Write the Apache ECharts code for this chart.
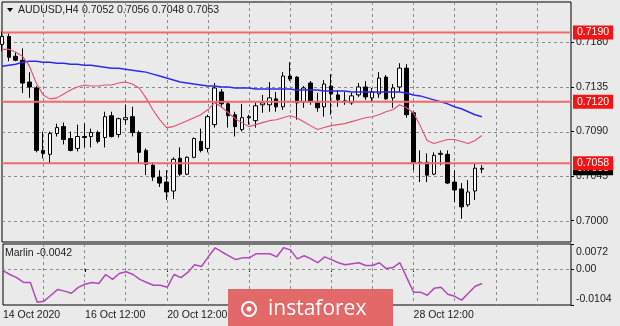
<!DOCTYPE html>
<html><head><meta charset="utf-8">
<script src="https://cdn.jsdelivr.net/npm/echarts@6/dist/echarts.min.js"></script>
<style>html,body{margin:0;padding:0;background:#eaeaea}#c{width:620px;height:326px}</style>
</head><body><div id="c"></div>
<script>
const symbolName = 'AUDUSD,H4';
const indicatorName = 'Marlin';
const categories = [
 '14 Oct 2020','14 Oct 16:00','14 Oct 20:00',
 '15 Oct 00:00','15 Oct 04:00','15 Oct 08:00','15 Oct 12:00','15 Oct 16:00','15 Oct 20:00',
 '16 Oct 00:00','16 Oct 04:00','16 Oct 08:00','16 Oct 12:00','16 Oct 16:00','16 Oct 20:00',
 '19 Oct 00:00','19 Oct 04:00','19 Oct 08:00','19 Oct 12:00','19 Oct 16:00','19 Oct 20:00',
 '20 Oct 00:00','20 Oct 04:00','20 Oct 08:00','20 Oct 12:00','20 Oct 16:00','20 Oct 20:00',
 '21 Oct 00:00','21 Oct 04:00','21 Oct 08:00','21 Oct 12:00','21 Oct 16:00','21 Oct 20:00',
 '22 Oct 00:00','22 Oct 04:00','22 Oct 08:00','22 Oct 12:00','22 Oct 16:00','22 Oct 20:00',
 '23 Oct 00:00','23 Oct 04:00','23 Oct 08:00','23 Oct 12:00','23 Oct 16:00','23 Oct 20:00',
 '26 Oct 00:00','26 Oct 04:00','26 Oct 08:00','26 Oct 12:00','26 Oct 16:00','26 Oct 20:00',
 '27 Oct 00:00','27 Oct 04:00','27 Oct 08:00','27 Oct 12:00','27 Oct 16:00','27 Oct 20:00',
 '28 Oct 00:00','28 Oct 04:00','28 Oct 08:00','28 Oct 12:00','28 Oct 16:00','28 Oct 20:00',
 '29 Oct 00:00','29 Oct 04:00','29 Oct 08:00','29 Oct 12:00','29 Oct 16:00','29 Oct 20:00',
 '30 Oct 00:00','30 Oct 04:00'
];
const open  = [0.7178,0.7186,0.7166,0.7162,0.7140,0.7134,0.7071,0.7067,0.7088,0.7095,0.7083,0.7073,0.7085,0.7085,0.7089,0.7084,0.7106,0.7087,0.7102,0.7105,0.7089,0.7071,0.7056,0.7044,0.7039,0.7030,0.7063,0.7047,0.7064,0.7080,0.7073,0.7097,0.7130,0.7118,0.7107,0.7092,0.7104,0.7101,0.7117,0.7117,0.7123,0.7115,0.7146,0.7145,0.7120,0.7139,0.7119,0.7115,0.7136,0.7127,0.7121,0.7119,0.7127,0.7135,0.7124,0.7128,0.7145,0.7124,0.7135,0.7154,0.7109,0.7059,0.7059,0.7047,0.7067,0.7067,0.7039,0.7032,0.7016,0.7030,0.7052];
const close = [0.7186,0.7165,0.7162,0.7139,0.7135,0.7071,0.7068,0.7088,0.7094,0.7082,0.7071,0.7085,0.7084,0.7089,0.7080,0.7105,0.7085,0.7103,0.7104,0.7089,0.7069,0.7057,0.7044,0.7038,0.7029,0.7062,0.7047,0.7064,0.7083,0.7071,0.7105,0.7134,0.7118,0.7106,0.7095,0.7104,0.7105,0.7116,0.7119,0.7124,0.7115,0.7146,0.7143,0.7119,0.7134,0.7120,0.7114,0.7138,0.7128,0.7122,0.7120,0.7126,0.7135,0.7125,0.7130,0.7144,0.7123,0.7134,0.7154,0.7107,0.7059,0.7058,0.7046,0.7066,0.7068,0.7038,0.7031,0.7014,0.7029,0.7053,0.7053];
const low   = [0.7171,0.7161,0.7161,0.7129,0.7124,0.7069,0.7063,0.7058,0.7085,0.7077,0.7070,0.7070,0.7074,0.7074,0.7078,0.7074,0.7084,0.7084,0.7097,0.7085,0.7058,0.7046,0.7040,0.7034,0.7021,0.7022,0.7045,0.7046,0.7063,0.7069,0.7069,0.7094,0.7114,0.7094,0.7085,0.7090,0.7097,0.7094,0.7109,0.7110,0.7110,0.7112,0.7141,0.7102,0.7114,0.7117,0.7110,0.7105,0.7107,0.7115,0.7117,0.7117,0.7125,0.7122,0.7120,0.7124,0.7122,0.7114,0.7130,0.7104,0.7051,0.7039,0.7039,0.7046,0.7056,0.7037,0.7019,0.7002,0.7014,0.7021,0.7048];
const high  = [0.7191,0.7189,0.7170,0.7174,0.7150,0.7136,0.7090,0.7090,0.7098,0.7099,0.7090,0.7097,0.7098,0.7093,0.7091,0.7110,0.7110,0.7104,0.7117,0.7115,0.7091,0.7073,0.7059,0.7051,0.7051,0.7064,0.7074,0.7065,0.7084,0.7093,0.7107,0.7139,0.7133,0.7120,0.7110,0.7118,0.7107,0.7119,0.7127,0.7140,0.7130,0.7150,0.7160,0.7146,0.7136,0.7141,0.7129,0.7142,0.7148,0.7132,0.7130,0.7129,0.7139,0.7141,0.7134,0.7150,0.7147,0.7138,0.7159,0.7158,0.7110,0.7071,0.7068,0.7069,0.7071,0.7071,0.7051,0.7038,0.7041,0.7058,0.7056];
const maBlue = [0.7156,0.7157,0.7158,0.7160,0.7161,0.7161,0.7160,0.7160,0.7159,0.7159,0.7158,0.7158,0.7157,0.7157,0.7156,0.7155,0.7154,0.7154,0.7153,0.7152,0.7151,0.7150,0.7148,0.7146,0.7144,0.7142,0.7140,0.7139,0.7138,0.7137,0.7136,0.7136,0.7135,0.7135,0.7134,0.7134,0.7134,0.7133,0.7133,0.7133,0.7133,0.7133,0.7133,0.7132,0.7132,0.7132,0.7132,0.7131,0.7131,0.7131,0.7131,0.7130,0.7130,0.7130,0.7130,0.7130,0.7130,0.7130,0.7130,0.7129,0.7127,0.7126,0.7124,0.7122,0.7120,0.7118,0.7115,0.7113,0.7110,0.7107,0.7105];
const maRed = [0.7173,0.7173,0.7170,0.7166,0.7156,0.7139,0.7127,0.7123,0.7124,0.7128,0.7132,0.7135,0.7137,0.7136,0.7136,0.7137,0.7137,0.7139,0.7140,0.7138,0.7134,0.7124,0.7112,0.7102,0.7094,0.7095,0.7098,0.7101,0.7104,0.7107,0.7112,0.7119,0.7115,0.7109,0.7103,0.7099,0.7095,0.7097,0.7099,0.7101,0.7102,0.7104,0.7106,0.7104,0.7100,0.7096,0.7092,0.7094,0.7096,0.7097,0.7098,0.7100,0.7102,0.7104,0.7105,0.7107,0.7110,0.7112,0.7117,0.7114,0.7109,0.7096,0.7081,0.7078,0.7080,0.7082,0.7082,0.7080,0.7078,0.7081,0.7086];
const marlin = [-0.0005,-0.0016,-0.0025,-0.0039,-0.0039,-0.0096,-0.0093,-0.0076,-0.0059,-0.0064,-0.0070,-0.0053,-0.0044,-0.0039,-0.0042,-0.0016,-0.0030,-0.0013,-0.0008,-0.0016,-0.0030,-0.0039,-0.0047,-0.0047,-0.0053,-0.0016,-0.0025,-0.0010,0.0012,0.0007,0.0035,0.0061,0.0049,0.0038,0.0027,0.0032,0.0032,0.0044,0.0044,0.0044,0.0035,0.0061,0.0055,0.0029,0.0038,0.0029,0.0018,0.0035,0.0027,0.0018,0.0012,0.0015,0.0018,0.0010,0.0010,0.0018,0.0001,0.0004,0.0018,-0.0025,-0.0067,-0.0067,-0.0076,-0.0056,-0.0053,-0.0073,-0.0079,-0.0090,-0.0070,-0.0050,-0.0042];
const priceTicks = [0.7000,0.7045,0.7090,0.7135,0.7180];
const priceMin = 0.69785, priceMax = 0.72208;
const levels = [0.7190,0.7120,0.7058];
const marlinTicks = [-0.0104,0,0.0072];
const marlinGrid = [0];
const marlinMin = -0.0104, marlinMax = 0.0072;
const totalSlots = 84;
const gridEvery = 6, labelEvery = 12;

const slots = categories.concat(new Array(totalSlots - categories.length).fill(''));
const candles = open.map((o,i)=>[o, close[i], low[i], high[i]]);
const last = open.length - 1;
const FONT = 'Liberation Sans';
const DASH = {stroke:'#8c8c8c', lineWidth:1, lineDash:[3,3]};

const chart = echarts.init(document.getElementById('c'), null, {renderer:'canvas'});
chart.setOption({
  animation:false,
  backgroundColor:'#eaeaea',
  textStyle:{fontFamily:FONT},
  grid:[
    {left:2, right:49, top:2, height:240, show:true, borderColor:'#000', borderWidth:1, backgroundColor:'transparent'},
    {left:2, right:49, top:244, height:61, show:true, borderColor:'#000', borderWidth:1, backgroundColor:'transparent'}
  ],
  xAxis:[
    {type:'category', gridIndex:0, data:slots, boundaryGap:false,
     axisLine:{show:false}, axisTick:{show:false}, axisLabel:{show:false}, splitLine:{show:false}},
    {type:'category', gridIndex:1, data:slots, boundaryGap:false,
     axisLine:{show:false},
     axisTick:{show:true, interval:(i)=>i%labelEvery===0 && i<=last, length:3, lineStyle:{color:'#000'}},
     axisLabel:{show:true, interval:(i)=>i%labelEvery===0 && i<=last, align:'left', margin:5, fontSize:10.5, color:'#1a1a1a', fontFamily:FONT},
     splitLine:{show:false}}
  ],
  yAxis:[
    {type:'value', gridIndex:0, position:'right', min:priceMin, max:priceMax,
     splitLine:{show:false}, axisLine:{show:false},
     axisTick:{show:true, customValues:priceTicks, length:3, lineStyle:{color:'#000'}},
     axisLabel:{show:true, customValues:priceTicks, formatter:(v)=>v.toFixed(4), margin:5, fontSize:10.5, color:'#1a1a1a', fontFamily:FONT}},
    {type:'value', gridIndex:1, position:'right', min:marlinMin, max:marlinMax,
     splitLine:{show:false}, axisLine:{show:false},
     axisTick:{show:true, customValues:marlinTicks, length:3, lineStyle:{color:'#000'}},
     axisLabel:{show:true, customValues:marlinTicks, formatter:(v)=>v===0?'0.00':v.toFixed(4), margin:5, fontSize:10.5, color:'#1a1a1a', fontFamily:FONT,
       verticalAlignMinLabel:'bottom', verticalAlignMaxLabel:'top', padding:[3,0,0,0]}}
  ],
  series:[
    {type:'candlestick', xAxisIndex:0, yAxisIndex:0, data:candles, barWidth:4, z:3,
     itemStyle:{color:'#ffffff', color0:'#000000', borderColor:'#000000', borderColor0:'#000000', borderWidth:1}},
    {type:'line', xAxisIndex:0, yAxisIndex:0, data:maBlue, showSymbol:false, symbol:'none', z:4,
     lineStyle:{color:'#2b2bf2', width:1.5}},
    {type:'line', xAxisIndex:0, yAxisIndex:0, data:maRed, showSymbol:false, symbol:'none', z:4,
     lineStyle:{color:'#e4506e', width:1.1}},
    {type:'line', xAxisIndex:1, yAxisIndex:1, data:marlin, showSymbol:false, symbol:'none', z:4,
     lineStyle:{color:'#b048ba', width:1.5}}
  ]
});

// overlay elements positioned through the chart's own scales
const px = (i,g)=>chart.convertToPixel({xAxisIndex:g}, i);
const py = (v,g)=>chart.convertToPixel({yAxisIndex:g}, v);
const xL = px(0,0), xR = px(totalSlots-1,0);
const yTop0 = py(priceMax,0), yBot0 = py(priceMin,0);
const yTop1 = py(marlinMax,1), yBot1 = py(marlinMin,1);
const g = [];
for (let i = gridEvery; i < totalSlots; i += gridEvery) {
  const x = Math.round(px(i,0)) + 0.5;
  g.push({type:'line', shape:{x1:x, y1:yTop0, x2:x, y2:yBot0}, style:DASH, z:1, silent:true});
  g.push({type:'line', shape:{x1:x, y1:yTop1, x2:x, y2:yBot1}, style:DASH, z:1, silent:true});
}
priceTicks.forEach(v=>{
  const y = Math.round(py(v,0)) + 0.5;
  g.push({type:'line', shape:{x1:xL, y1:y, x2:xR, y2:y}, style:DASH, z:1, silent:true});
});
marlinGrid.forEach(v=>{
  const y = Math.round(py(v,1)) + 0.5;
  g.push({type:'line', shape:{x1:xL, y1:y, x2:xR, y2:y}, style:DASH, z:1, silent:true});
});
// current price box (under level labels)
const yc = py(close[last],0);
g.push({type:'text', x:xR+2, y:yc, z:20, style:{text:close[last].toFixed(4), font:'10.5px "Liberation Sans"', fill:'#fff',
  backgroundColor:'#000', padding:[2,4,1,4], textVerticalAlign:'middle'}});
levels.forEach(v=>{
  const y = py(v,0);
  g.push({type:'line', shape:{x1:xL, y1:y, x2:xR, y2:y}, style:{stroke:'#f06a6a', lineWidth:2}, z:30, silent:true});
  g.push({type:'text', x:xR+2, y:y, z:31, style:{text:v.toFixed(4), font:'10.5px "Liberation Sans"', fill:'#fff',
    backgroundColor:'#f41414', padding:[2,4,1,4], textVerticalAlign:'middle'}});
});
g.push({type:'polygon', shape:{points:[[7,8],[13,8],[10,12]]}, style:{fill:'#000'}, z:40});
g.push({type:'text', x:18, y:10, z:40, style:{text:symbolName, font:'10.5px "Liberation Sans"', fill:'#1a1a1a', textVerticalAlign:'middle'}});
g.push({type:'text', x:82, y:10, z:40, style:{text:[open[last],high[last],low[last],close[last]].map(v=>v.toFixed(4)).join(' '), font:'10.5px "Liberation Sans"', fill:'#1a1a1a', textVerticalAlign:'middle'}});
g.push({type:'text', x:5, y:253, z:40, style:{text:indicatorName+' '+marlin[last].toFixed(4), font:'10.5px "Liberation Sans"', fill:'#1a1a1a', textVerticalAlign:'middle'}});
g.push({type:'rect', shape:{x:228, y:289, width:165, height:37}, style:{fill:'#e36868'}, z:100, zlevel:1});
g.push({type:'circle', shape:{cx:249, cy:309, r:7}, style:{fill:'none', stroke:'#fff', lineWidth:2}, z:101, zlevel:1});
g.push({type:'circle', shape:{cx:249, cy:309, r:2.5}, style:{fill:'#fff'}, z:101, zlevel:1});
g.push({type:'text', x:268, y:309, z:101, zlevel:1, style:{text:'instaforex', font:'21px "Open Sans"', fill:'#ffffff', textVerticalAlign:'middle'}});
chart.setOption({graphic:g});
</script></body></html>
